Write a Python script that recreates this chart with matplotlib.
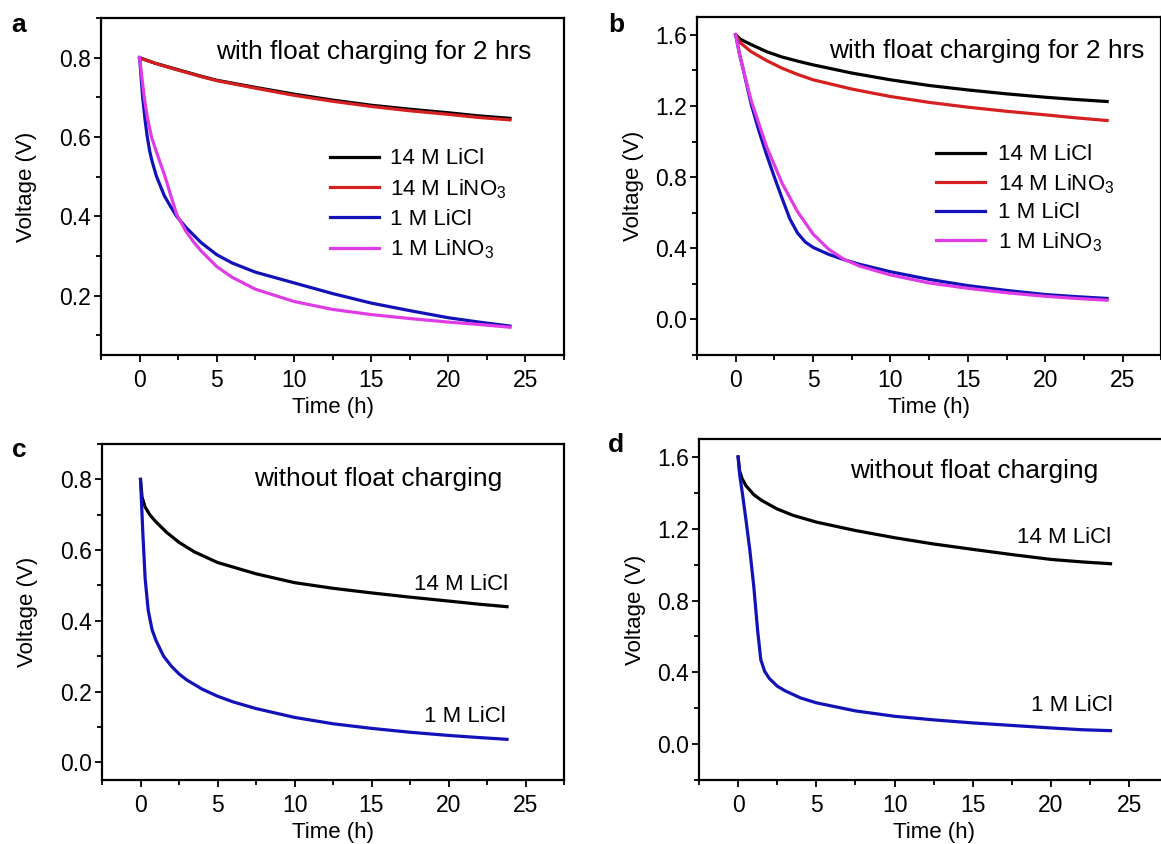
import matplotlib
matplotlib.use("Agg")
import matplotlib.pyplot as plt
from matplotlib.ticker import MultipleLocator, FormatStrFormatter

plt.rcParams['font.family'] = ['Liberation Sans', 'DejaVu Sans']
plt.rcParams['mathtext.fontset'] = 'custom'
plt.rcParams['mathtext.rm'] = 'Liberation Sans'
plt.rcParams['mathtext.it'] = 'Liberation Sans:italic'

# ---------------- data ----------------
# panel a (0.8 V cell, with float charging)
ta_14licl = [0, 1, 2, 3, 4, 5, 7.5, 10, 12.5, 15, 17.5, 20, 22, 24]
va_14licl = [0.80, 0.786, 0.775, 0.764, 0.753, 0.743, 0.725, 0.708, 0.693, 0.680, 0.670, 0.661, 0.653, 0.647]
ta_14lino3 = [0, 0.15, 1, 2, 3, 4, 5, 7.5, 10, 12.5, 15, 17.5, 20, 22, 24]
va_14lino3 = [0.80, 0.797, 0.786, 0.774, 0.763, 0.752, 0.742, 0.723, 0.705, 0.690, 0.677, 0.666, 0.657, 0.649, 0.643]
ta_1licl = [0, 0.1, 0.2, 0.35, 0.48, 0.65, 0.8, 1.1, 1.6, 2.0, 2.4, 3, 4, 5, 6, 7.5, 10, 12.5, 15, 17.5, 20, 22, 24]
va_1licl = [0.80, 0.75, 0.70, 0.645, 0.605, 0.565, 0.54, 0.50, 0.452, 0.425, 0.40, 0.372, 0.333, 0.303, 0.282, 0.259, 0.232, 0.205, 0.181, 0.162, 0.144, 0.133, 0.123]
ta_1lino3 = [0, 0.15, 0.3, 0.5, 0.77, 1.2, 1.65, 2.0, 2.4, 3, 3.5, 4, 5, 6, 7.5, 10, 12.5, 15, 17.5, 20, 22, 24]
va_1lino3 = [0.80, 0.75, 0.70, 0.65, 0.60, 0.55, 0.50, 0.455, 0.405, 0.362, 0.335, 0.312, 0.273, 0.246, 0.216, 0.185, 0.165, 0.152, 0.142, 0.133, 0.127, 0.12]

# panel b (1.6 V cell, with float charging)
tb_14licl = [0, 0.3, 1, 2, 3, 4, 5, 7.5, 10, 12.5, 15, 17.5, 20, 22, 24]
vb_14licl = [1.60, 1.575, 1.545, 1.505, 1.475, 1.452, 1.431, 1.385, 1.347, 1.315, 1.29, 1.268, 1.249, 1.236, 1.225]
tb_14lino3 = [0, 0.3, 1, 2, 3, 4, 5, 7.5, 10, 12.5, 15, 17.5, 20, 22, 24]
vb_14lino3 = [1.60, 1.555, 1.505, 1.455, 1.412, 1.377, 1.347, 1.295, 1.253, 1.22, 1.193, 1.17, 1.15, 1.133, 1.118]
tb_1licl = [0, 0.25, 0.5, 1, 1.5, 2, 2.5, 3, 3.5, 4, 4.5, 5, 6, 7, 8, 10, 12.5, 15, 17.5, 20, 22, 24]
vb_1licl = [1.60, 1.49, 1.40, 1.21, 1.06, 0.925, 0.80, 0.68, 0.565, 0.485, 0.435, 0.405, 0.366, 0.336, 0.31, 0.268, 0.225, 0.19, 0.163, 0.14, 0.128, 0.118]
tb_1lino3 = [0, 0.25, 0.5, 1, 2, 3, 4, 5, 6, 7, 8, 10, 12.5, 15, 17.5, 20, 22, 24]
vb_1lino3 = [1.60, 1.49, 1.40, 1.23, 0.97, 0.765, 0.605, 0.48, 0.395, 0.338, 0.30, 0.25, 0.205, 0.175, 0.15, 0.13, 0.118, 0.108]

# panel c (0.8 V cell, without float charging)
tc_14licl = [0, 0.1, 0.3, 0.6, 1, 1.7, 2.5, 3.5, 5, 7.5, 10, 12.5, 15, 17.5, 20, 22, 23.8]
vc_14licl = [0.80, 0.75, 0.722, 0.70, 0.68, 0.65, 0.622, 0.595, 0.565, 0.533, 0.508, 0.492, 0.479, 0.467, 0.456, 0.447, 0.44]
tc_1licl = [0, 0.05, 0.15, 0.3, 0.5, 0.75, 1, 1.5, 2, 2.5, 3, 4, 5, 6, 7.5, 10, 12.5, 15, 17.5, 20, 22, 23.8]
vc_1licl = [0.80, 0.75, 0.65, 0.52, 0.43, 0.375, 0.345, 0.30, 0.272, 0.25, 0.233, 0.207, 0.187, 0.171, 0.152, 0.127, 0.109, 0.096, 0.085, 0.076, 0.07, 0.065]

# panel d (1.6 V cell, without float charging)
td_14licl = [0, 0.1, 0.25, 0.5, 1, 1.5, 2.5, 3.5, 5, 7.5, 10, 12.5, 15, 17.5, 20, 22, 23.8]
vd_14licl = [1.60, 1.52, 1.48, 1.44, 1.39, 1.358, 1.31, 1.275, 1.237, 1.19, 1.15, 1.115, 1.085, 1.056, 1.029, 1.015, 1.005]
td_1licl = [0, 0.1, 0.3, 0.5, 0.75, 1.0, 1.25, 1.45, 1.7, 2.0, 2.5, 3, 4, 5, 7.5, 10, 12.5, 15, 17.5, 20, 22, 23.8]
vd_1licl = [1.60, 1.50, 1.38, 1.25, 1.08, 0.88, 0.63, 0.47, 0.405, 0.365, 0.323, 0.297, 0.257, 0.23, 0.185, 0.155, 0.135, 0.118, 0.104, 0.09, 0.08, 0.075]

labels = ['14 M LiCl', '14 M LiNO$_3$', '1 M LiCl', '1 M LiNO$_3$']
colors = ['#000000', '#d42020', '#1212b8', '#e03ce6']

# ---------------- figure ----------------
W, H = 1161, 844
fig = plt.figure(figsize=(W / 100, H / 100), dpi=100)

def box(l, r, t, b):
    return [l / W, 1 - b / H, (r - l) / W, (b - t) / H]

axa = fig.add_axes(box(101, 564, 18, 355))
axb = fig.add_axes(box(697, 1161.3, 17, 355))
axc = fig.add_axes(box(102, 564, 444, 780))
axd = fig.add_axes(box(699, 1168.4, 439, 780))

LW = 2.3
TICK_FS = 16.5
LAB_FS = 16

def style(ax, ylim, ymaj, ymin, ylabpad):
    ax.set_xlim(-2.5, 27.5)
    ax.set_ylim(*ylim)
    ax.xaxis.set_major_locator(MultipleLocator(5))
    ax.xaxis.set_minor_locator(MultipleLocator(2.5))
    ax.yaxis.set_major_locator(MultipleLocator(ymaj))
    ax.yaxis.set_minor_locator(MultipleLocator(ymin))
    ax.yaxis.set_major_formatter(FormatStrFormatter('%.1f'))
    for s in ax.spines.values():
        s.set_linewidth(1.6)
    ax.tick_params(which='major', length=5, width=1.3, labelsize=TICK_FS,
                   top=False, right=False, direction='out')
    ax.tick_params(which='minor', length=3.5, width=1.3, top=False, right=False,
                   direction='out')
    ax.tick_params(axis='x', which='major', pad=5)
    ax.tick_params(axis='y', which='major', pad=2)
    ax.set_xlabel('Time (h)', fontsize=LAB_FS, labelpad=4)
    ax.set_ylabel('Voltage (V)', fontsize=LAB_FS, labelpad=ylabpad)

# panel a
axa.plot(ta_14licl, va_14licl, color=colors[0], lw=LW, label=labels[0])
axa.plot(ta_14lino3, va_14lino3, color=colors[1], lw=LW, label=labels[1])
axa.plot(ta_1licl, va_1licl, color=colors[2], lw=LW, label=labels[2])
axa.plot(ta_1lino3, va_1lino3, color=colors[3], lw=LW, label=labels[3])
style(axa, (0.05, 0.9), 0.2, 0.1, 16)
axa.text(25.4, 0.815, 'with float charging for 2 hrs', fontsize=18.9,
         ha='right', va='center')
axa.legend(loc='upper left', bbox_to_anchor=(0.495, 0.613), frameon=False,
           fontsize=16, handlelength=2.2, handletextpad=0.5,
           labelspacing=0.35, borderpad=0, borderaxespad=0)

# panel b
axb.plot(tb_14licl, vb_14licl, color=colors[0], lw=LW, label=labels[0])
axb.plot(tb_14lino3, vb_14lino3, color=colors[1], lw=LW, label=labels[1])
axb.plot(tb_1licl, vb_1licl, color=colors[2], lw=LW, label=labels[2])
axb.plot(tb_1lino3, vb_1lino3, color=colors[3], lw=LW, label=labels[3])
style(axb, (-0.2, 1.7), 0.4, 0.2, 8)
axb.text(26.4, 1.51, 'with float charging for 2 hrs', fontsize=18.9,
         ha='right', va='center')
axb.legend(loc='upper left', bbox_to_anchor=(0.515, 0.623), frameon=False,
           fontsize=16, handlelength=2.2, handletextpad=0.6,
           labelspacing=0.3, borderpad=0, borderaxespad=0)

# panel c
axc.plot(tc_14licl, vc_14licl, color=colors[0], lw=LW)
axc.plot(tc_1licl, vc_1licl, color=colors[2], lw=LW)
style(axc, (-0.05, 0.9), 0.2, 0.1, 16)
axc.text(23.5, 0.80, 'without float charging', fontsize=18.9, ha='right', va='center')
axc.text(23.87, 0.502, '14 M LiCl', fontsize=16, ha='right', va='center')
axc.text(23.7, 0.129, '1 M LiCl', fontsize=16, ha='right', va='center')

# panel d
axd.plot(td_14licl, vd_14licl, color=colors[0], lw=LW)
axd.plot(td_1licl, vd_1licl, color=colors[2], lw=LW)
style(axd, (-0.2, 1.7), 0.4, 0.2, 8)
axd.text(23.03, 1.522, 'without float charging', fontsize=18.9, ha='right', va='center')
axd.text(23.86, 1.153, '14 M LiCl', fontsize=16, ha='right', va='center')
axd.text(23.93, 0.214, '1 M LiCl', fontsize=16, ha='right', va='center')

# panel letters
for letter, x, y in [('a', 11, 32), ('b', 608, 32), ('c', 12, 457), ('d', 608, 452)]:
    fig.text(x / W, 1 - y / H, letter, fontsize=19, fontweight='bold',
             ha='left', va='baseline')

fig.savefig('out.png', dpi=100)
